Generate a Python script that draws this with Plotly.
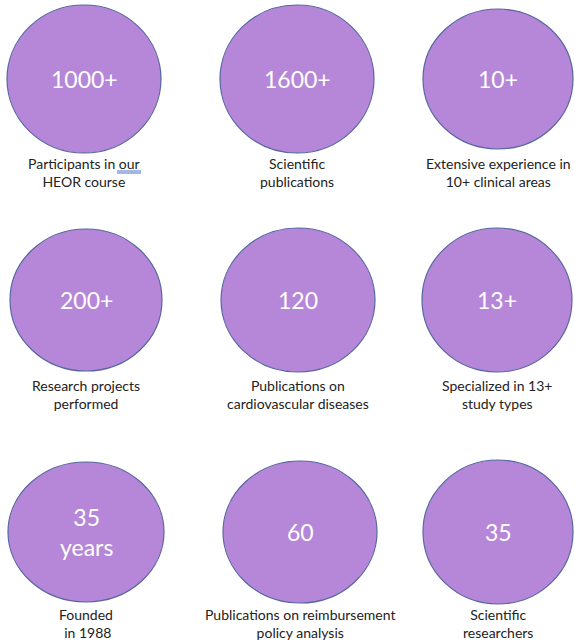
import plotly.graph_objects as go

# Data
values = ["1000+", "1600+", "10+", "200+", "120", "13+", "35<br>years", "60", "35"]
labels = [
    "Participants in our<br>HEOR course",
    "Scientific<br>publications",
    "Extensive experience in<br>10+ clinical areas",
    "Research projects<br>performed",
    "Publications on<br>cardiovascular diseases",
    "Specialized in 13+<br>study types",
    "Founded<br> in 1988",
    "Publications on reimbursement<br>policy analysis",
    "Scientific<br>researchers",
]

# Layout (pixel-like coordinates)
col_x = [[84, 297, 498], [86, 298, 497], [86, 300, 498]]
row_y = [79, 300, 532]
rx = [[77, 77, 75], [76, 77, 75], [78, 77, 75]]
ry = [[74, 74, 70], [71, 72, 72], [70, 71, 72]]
label_y = [172, 394, 623]
fill = "#B687D8"
edge = "#5566A0"

fig = go.Figure()
shapes = []
annotations = []
for i, (v, lab) in enumerate(zip(values, labels)):
    r, c = divmod(i, 3)
    cx, cy = col_x[r][c], row_y[r]
    shapes.append(dict(type="circle", xref="x", yref="y",
                       x0=cx - rx[r][c], x1=cx + rx[r][c],
                       y0=cy - ry[r][c], y1=cy + ry[r][c],
                       fillcolor=fill, line=dict(color=edge, width=1.2), layer="below"))
    annotations.append(dict(x=cx, y=cy, xref="x", yref="y", text=v, showarrow=False,
                            font=dict(family="Lato", size=23, color="white"),
                            xanchor="center", yanchor="middle"))
    annotations.append(dict(x=cx, y=label_y[r], xref="x", yref="y", text=lab, showarrow=False,
                            font=dict(family="Lato", size=14, color="#222222"),
                            xanchor="center", yanchor="middle", align="center"))

# spell-check style underline under "our"
for dy in (171, 173):
    shapes.append(dict(type="line", xref="x", yref="y", x0=117, x1=141, y0=dy, y1=dy,
                       line=dict(color="#4A6FD0", width=1)))

fig.add_trace(go.Scatter(x=[0, 575], y=[0, 641], mode="markers",
                         marker=dict(opacity=0), hoverinfo="skip", showlegend=False))
fig.update_layout(
    width=575, height=641, margin=dict(l=0, r=0, t=0, b=0),
    paper_bgcolor="white", plot_bgcolor="white",
    xaxis=dict(range=[0, 575], visible=False, fixedrange=True),
    yaxis=dict(range=[641, 0], visible=False, fixedrange=True),
    shapes=shapes, annotations=annotations, showlegend=False,
)
fig.write_html("out.html", config={"displayModeBar": False},
               post_script="document.body.style.margin='0';document.body.style.overflow='hidden';")
